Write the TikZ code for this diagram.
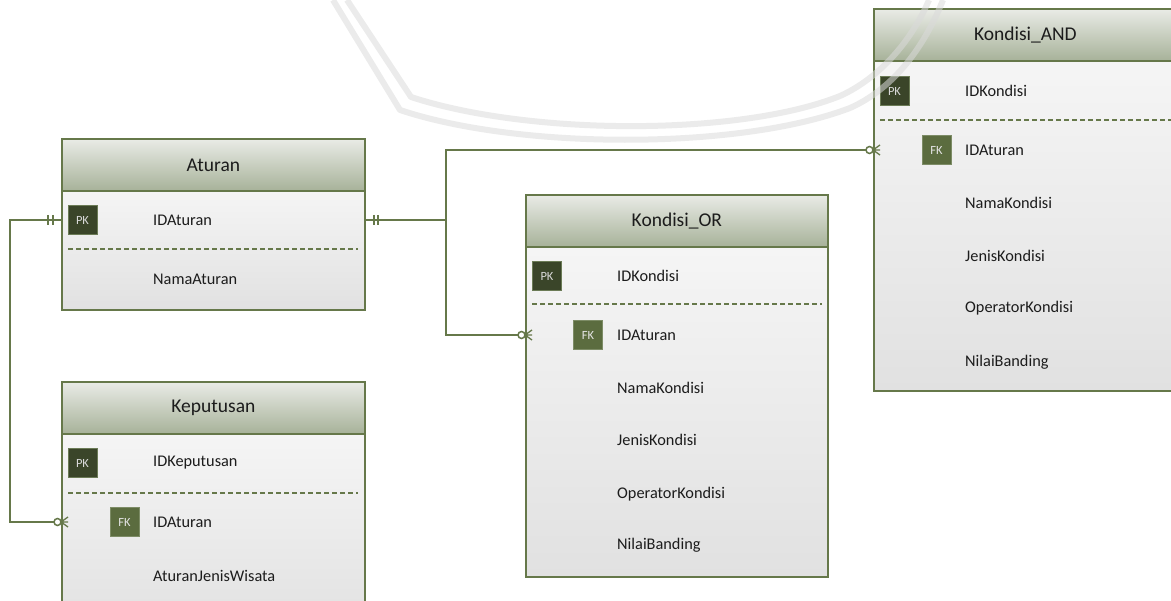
\documentclass[tikz,border=0pt]{standalone}
\usepackage{fontspec}
\setmainfont{Carlito}
\usetikzlibrary{calc}

\definecolor{erline}{HTML}{66784A}
\definecolor{headtop}{HTML}{E9EBE6}
\definecolor{headbot}{HTML}{A7B299}
\definecolor{bodytop}{HTML}{F5F5F5}
\definecolor{bodybot}{HTML}{E1E1E1}
\definecolor{pkfill}{HTML}{3A4529}
\definecolor{pkdraw}{HTML}{6B7B56}
\definecolor{fkfill}{HTML}{5B6C3F}
\definecolor{fkdraw}{HTML}{7D8C66}
\definecolor{ertext}{HTML}{1C1C1C}
\definecolor{wmark}{HTML}{DADADA}

\tikzset{
  tblhead/.style={draw=erline, line width=1.8pt, top color=headtop, bottom color=headbot,
    anchor=north west, minimum height=52pt, inner sep=0pt, text=ertext,
    font=\fontsize{19.5}{22}\selectfont},
  tblbody/.style={draw=erline, line width=1.8pt, top color=bodytop, bottom color=bodybot,
    anchor=north west, inner sep=0pt},
  field/.style={anchor=west, inner sep=0pt, text=ertext, font=\fontsize{16.3}{19}\selectfont},
  pkbox/.style={fill=pkfill, draw=pkdraw, line width=1pt, minimum size=29pt, inner sep=0pt,
    text=white!85!black, font=\fontsize{12.5}{14}\selectfont},
  fkbox/.style={fill=fkfill, draw=fkdraw, line width=1pt, minimum size=29pt, inner sep=0pt,
    text=white!90!black, font=\fontsize{12.5}{14}\selectfont},
  sep/.style={draw=erline, line width=1.6pt, dash pattern=on 5pt off 3pt},
  rel/.style={draw=erline, line width=1.6pt},
  ringline/.style={draw=wmark, line width=6pt, opacity=0.55, line join=round}
}

\begin{document}
\begin{tikzpicture}[x=1pt, y=-1pt]
\useasboundingbox (0,0) rectangle (1171,601);
\clip (0,0) rectangle (1171,601);

% ---------- Aturan ----------
\node[tblbody, minimum width=303pt, minimum height=119pt] (at-b) at (61,190) {};
\node[tblhead, minimum width=303pt] (at-h) at (61,138) {Aturan};
\node[pkbox] (at-pk) at ($(at-b.north west)+(21.5,30)$) {PK};
\node[field] (at-f1) at ($(at-b.north west)+(92,30)$) {IDAturan};
\draw[sep] ($(at-b.north west)+(7,59)$) -- ($(at-b.north east)+(-8,59)$);
\node[field] (at-f2) at ($(at-b.north west)+(92,89)$) {NamaAturan};

% ---------- Keputusan ----------
\node[tblbody, minimum width=303pt, minimum height=200pt] (kp-b) at (61,433) {};
\node[tblhead, minimum width=303pt] (kp-h) at (61,381) {Keputusan};
\node[pkbox] (kp-pk) at ($(kp-b.north west)+(21.5,30)$) {PK};
\node[field] (kp-f1) at ($(kp-b.north west)+(92,30)$) {IDKeputusan};
\draw[sep] ($(kp-b.north west)+(7,60)$) -- ($(kp-b.north east)+(-8,60)$);
\node[fkbox] (kp-fk) at ($(kp-b.north west)+(63.5,89)$) {FK};
\node[field] (kp-f2) at ($(kp-b.north west)+(92,89)$) {IDAturan};
\node[field] (kp-f3) at ($(kp-b.north west)+(92,143)$) {AturanJenisWisata};

% ---------- Kondisi_OR ----------
\node[tblbody, minimum width=302pt, minimum height=330pt] (or-b) at (525,246) {};
\node[tblhead, minimum width=302pt] (or-h) at (525,194) {Kondisi\_OR};
\node[pkbox] (or-pk) at ($(or-b.north west)+(22,30)$) {PK};
\node[field] (or-f1) at ($(or-b.north west)+(92,30)$) {IDKondisi};
\draw[sep] ($(or-b.north west)+(7,58)$) -- ($(or-b.north east)+(-7,58)$);
\node[fkbox] (or-fk) at ($(or-b.north west)+(63,89)$) {FK};
\node[field] (or-f2) at ($(or-b.north west)+(92,89)$) {IDAturan};
\node[field] (or-f3) at ($(or-b.north west)+(92,142)$) {NamaKondisi};
\node[field] (or-f4) at ($(or-b.north west)+(92,194)$) {JenisKondisi};
\node[field] (or-f5) at ($(or-b.north west)+(92,248)$) {OperatorKondisi};
\node[field] (or-f6) at ($(or-b.north west)+(92,299)$) {NilaiBanding};

% ---------- Kondisi_AND ----------
\node[tblbody, minimum width=303pt, minimum height=330pt] (and-b) at (873,60) {};
\node[tblhead, minimum width=303pt] (and-h) at (873,8) {Kondisi\_AND};
\node[pkbox] (and-pk) at ($(and-b.north west)+(21.5,31)$) {PK};
\node[field] (and-f1) at ($(and-b.north west)+(92,31)$) {IDKondisi};
\draw[sep] ($(and-b.north west)+(7,60)$) -- ($(and-b.north east)+(-7,60)$);
\node[fkbox] (and-fk) at ($(and-b.north west)+(63.5,90)$) {FK};
\node[field] (and-f2) at ($(and-b.north west)+(92,90)$) {IDAturan};
\node[field] (and-f3) at ($(and-b.north west)+(92,143)$) {NamaKondisi};
\node[field] (and-f4) at ($(and-b.north west)+(92,196)$) {JenisKondisi};
\node[field] (and-f5) at ($(and-b.north west)+(92,248)$) {OperatorKondisi};
\node[field] (and-f6) at ($(and-b.north west)+(92,302)$) {NilaiBanding};

% ---------- relationship end points ----------
\coordinate (at-l)  at (at-b.west  |- at-pk);
\coordinate (at-r)  at (at-b.east  |- at-pk);
\coordinate (kp-l)  at (kp-b.west  |- kp-fk);
\coordinate (or-l)  at (or-b.west  |- or-fk);
\coordinate (and-l) at (and-b.west |- and-fk);

% Aturan 1 --- 0..n Keputusan
\draw[rel] (at-l) -- ++(-51,0) |- ($(kp-l)+(-7,0)$);
% Aturan 1 --- 0..n Kondisi_OR / Kondisi_AND
\draw[rel] (at-r) -- ++(80,0) coordinate (hub);
\draw[rel] (hub) |- ($(and-l)+(-7,0)$);
\draw[rel] (hub) |- ($(or-l)+(-7,0)$);

% "exactly one" ticks
\draw[rel] ($(at-l)+(-8,-5)$) -- ++(0,10) ($(at-l)+(-13,-5)$) -- ++(0,10);
\draw[rel] ($(at-r)+(8,-5)$) -- ++(0,10) ($(at-r)+(12,-5)$) -- ++(0,10);

% "zero or many" crow's feet
\foreach \p in {kp-l, or-l, and-l}{
  \draw[rel, line width=1.5pt, fill=white] ($(\p)+(-3.5,0)$) circle (3.5pt);
  \draw[rel, line width=1.3pt] ($(\p)+(7,-5)$) -- (\p) -- ($(\p)+(7,5)$)
                               (\p) -- ($(\p)+(7,0)$);
}

% faint ring in the background artwork
\draw[ringline] (333,0) -- (400,110)
  .. controls (520,150) and (740,150) .. (850,108)
  .. controls (895,88) and (925,45) .. (943,0);
\draw[ringline] (347,0) -- (411,97)
  .. controls (530,136) and (740,136) .. (840,96)
  .. controls (880,78) and (912,40) .. (929,0);
\end{tikzpicture}
\end{document}
